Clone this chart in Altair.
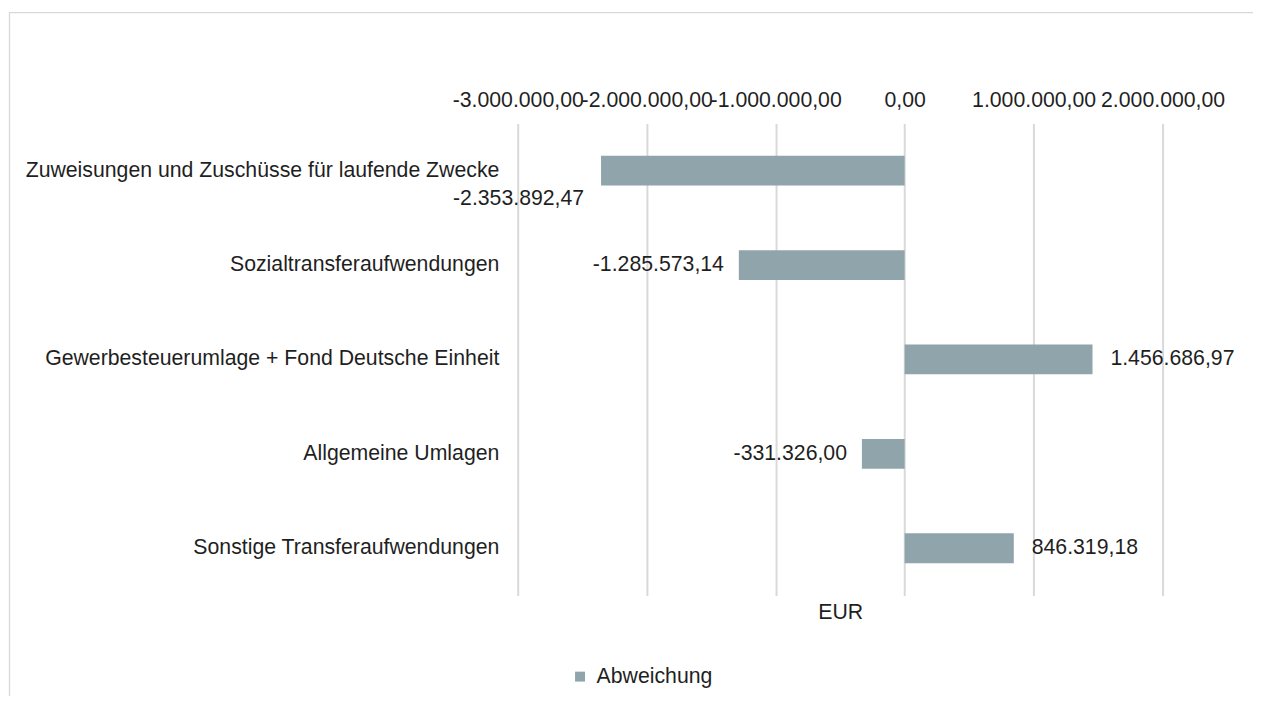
import altair as alt
import pandas as pd

categories = [
    "Zuweisungen und Zuschüsse für laufende Zwecke",
    "Sozialtransferaufwendungen",
    "Gewerbesteuerumlage + Fond Deutsche Einheit",
    "Allgemeine Umlagen",
    "Sonstige Transferaufwendungen",
]
values = [-2353892.47, -1285573.14, 1456686.97, -331326.00, 846319.18]
series_name = "Abweichung"
x_ticks = [-3000000, -2000000, -1000000, 0, 1000000, 2000000]
x_domain = [-3000000, 2000000]
axis_title = "EUR"

df = pd.DataFrame({"cat": categories, "val": values, "series": [series_name] * len(values)})

FONT = "Liberation Sans"
TXT = "#1f1f1f"
BAR = "#90A4AB"
GRID = "#d9d9d9"
FS = 21.4

y_enc = alt.Y("cat:N", sort=categories,
              scale=alt.Scale(paddingInner=0.684, paddingOuter=0.342),
              axis=alt.Axis(title=None, ticks=False, domain=False, labelFont=FONT,
                            labelFontSize=FS, labelColor=TXT, labelPadding=19,
                            labelLimit=600, grid=False))
y_plain = alt.Y("cat:N", sort=categories)

x_scale = alt.Scale(domain=x_domain, nice=False, zero=False)

base = alt.Chart(df)

frame = alt.Chart(pd.DataFrame({"a": [0]})).mark_rect(
    fill=None, stroke=GRID, strokeWidth=1.3
).encode(x=alt.value(-511.5), x2=alt.value(760), y=alt.value(-111.5), y2=alt.value(620))

bars = base.mark_bar().encode(
    x=alt.X("val:Q", scale=x_scale,
            axis=alt.Axis(orient="bottom", labels=False, ticks=False, domain=False, grid=False,
                          title=axis_title, titleFont=FONT, titleFontSize=FS,
                          titleFontWeight="normal", titleColor=TXT, titlePadding=6)),
    y=y_enc,
    color=alt.Color("series:N", scale=alt.Scale(range=[BAR]),
                    legend=alt.Legend(title=None, orient="none", legendX=52, legendY=546,
                                      symbolType="square", symbolSize=100, symbolStrokeWidth=0,
                                      labelFont=FONT, labelFontSize=FS, labelColor=TXT,
                                      labelOffset=6)),
)

top_axis = alt.Axis(orient="top", values=x_ticks, format=",.2f", ticks=False, tickSize=0,
                    domain=False, grid=True, gridColor=GRID, gridWidth=2,
                    labelFont=FONT, labelFontSize=FS, labelColor=TXT, labelPadding=13,
                    labelOverlap=False, labelFlush=False, title=None)

lbl_common = dict(font=FONT, fontSize=FS, color=TXT, baseline="middle")

lbl_pos = base.transform_filter("datum.val >= 0").mark_text(align="left", dx=18, **lbl_common).encode(
    x=alt.X("val:Q", scale=x_scale, axis=top_axis), y=y_plain,
    text=alt.Text("val:Q", format=",.2f"))

lbl_neg = base.transform_filter(
    f"datum.val < 0 && datum.cat != '{categories[0]}'"
).mark_text(align="right", dx=-15, **lbl_common).encode(
    x=alt.X("val:Q", scale=x_scale, axis=None), y=y_plain,
    text=alt.Text("val:Q", format=",.2f"))

lbl_first = base.transform_filter(
    f"datum.cat == '{categories[0]}'"
).mark_text(align="right", dx=-17, dy=29, **lbl_common).encode(
    x=alt.X("val:Q", scale=x_scale, axis=None), y=y_plain,
    text=alt.Text("val:Q", format=",.2f"))

chart = alt.layer(frame, bars, lbl_pos, lbl_neg, lbl_first).resolve_axis(
    x="independent"
).properties(
    width=649, height=475,
    autosize=alt.AutoSizeParams(type="none"),
    padding={"left": 513, "top": 114, "right": 91, "bottom": 99},
).configure(
    view={"stroke": None},
    locale={"number": {"decimal": ",", "thousands": ".", "grouping": [3],
                       "currency": ["", " €"], "minus": "-"}},
)

chart.save("out.html", embed_options={
    "renderer": "svg", "actions": False,
    "formatLocale": {"decimal": ",", "thousands": ".", "grouping": [3],
                     "currency": ["", " €"], "minus": "-"},
})
